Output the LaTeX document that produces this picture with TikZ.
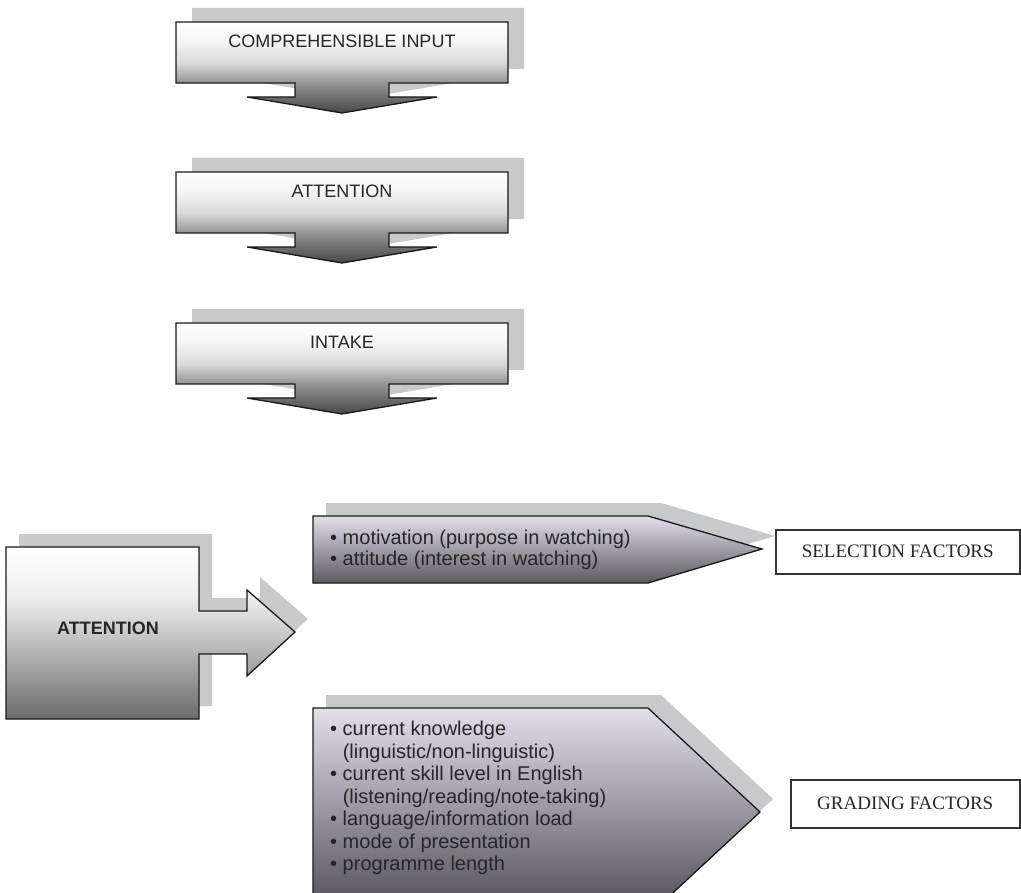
\documentclass[tikz,border=0pt]{standalone}
\usepackage{fontspec}
\setmainfont{Liberation Serif}
\setsansfont{Liberation Sans}
\usepackage{xcolor}
\usetikzlibrary{positioning}

\definecolor{shadowgray}{RGB}{200,201,203}
\definecolor{lavtop}{RGB}{228,222,236}
\definecolor{lavbot}{RGB}{78,75,84}

% shadings: 25bp = bottom of path, 75bp = top of path
\pgfdeclareverticalshading{stepshade}{100bp}{color(0bp)=(black!72); color(25bp)=(black!72);
  color(34bp)=(black!56); color(41.5bp)=(black!42); color(52.5bp)=(black!15);
  color(64.5bp)=(black!4); color(75bp)=(white); color(100bp)=(white)}
\pgfdeclareverticalshading{attshade}{100bp}{color(0bp)=(black!58); color(25bp)=(black!58);
  color(37.5bp)=(black!40); color(50bp)=(black!21); color(60bp)=(black!7);
  color(75bp)=(white); color(100bp)=(white)}

\newcommand\blt{•}

\tikzset{
  outline/.style={draw=black!90, line width=1.3},
  steplabel/.style={font=\sffamily\fontsize{18}{20}\selectfont, text=black!85},
  listlabel/.style={font=\sffamily\fontsize{20}{22.5}\selectfont, text=black!85, align=left, inner sep=0pt, anchor=west},
  factbox/.style={draw=black!80, line width=1.5, fill=white, anchor=north west,
    font=\rmfamily\fontsize{19}{21}\selectfont, text=black!85}
}

\begin{document}
\begin{tikzpicture}[x=1pt, y=-1pt]
      \useasboundingbox (0,0) rectangle (1021,893);
      \clip (0,0) rectangle (1021,893);

      % Top chain of boxes with down arrows
      \foreach \t/\lab [count=\i] in {22/COMPREHENSIBLE INPUT, 172/ATTENTION, 323/INTAKE} {
        \fill[shadowgray, shift={(16,-14)}] (176,\t) -- (508,\t) -- (508,\t+61) -- (389,\t+61)
          -- (389,\t+75) -- (437,\t+75) -- (342,\t+91) -- (247,\t+75) -- (295,\t+75)
          -- (295,\t+61) -- (176,\t+61) -- cycle;
        \path[outline, shading=stepshade]
          (176,\t) -- (508,\t) -- (508,\t+61) -- (389,\t+61)
          -- (389,\t+75) -- (437,\t+75) -- (342,\t+91) -- (247,\t+75) -- (295,\t+75)
          -- (295,\t+61) -- (176,\t+61) -- cycle;
        \node[steplabel] (step\i) at (342,\t+19) {\lab};
      }

      % Big attention arrow
      \fill[shadowgray, shift={(13,-13)}] (6,547) -- (199,547) -- (199,611) -- (247,611) -- (247,590)
        -- (295,632) -- (247,676) -- (247,654) -- (199,654) -- (199,719) -- (6,719) -- cycle;
      \path[outline, shading=attshade] (6,547) -- (199,547) -- (199,611)
        -- (247,611) -- (247,590) -- (295,632) -- (247,676) -- (247,654) -- (199,654)
        -- (199,719) -- (6,719) -- cycle;
      \node[font=\sffamily\bfseries\fontsize{18}{20}\selectfont, text=black!85] (attn) at (108,628) {ATTENTION};

      % Selection pentagon
      \fill[shadowgray, shift={(13,-13)}] (313,516) -- (648,516) -- (762,549) -- (648,583) -- (313,583) -- cycle;
      \path[outline, top color=lavtop, bottom color=lavbot!92] (313,516) -- (648,516) -- (762,549)
        -- (648,583) -- (313,583) -- cycle;
      \node[listlabel] (sellist) at (330,550) {\blt\ motivation (purpose in watching)\\[-1.5pt]
        \blt\ attitude (interest in watching)};

      % Grading pentagon
      \fill[shadowgray, shift={(13,-13)}] (313,708) -- (648,708) -- (760,812) -- (648,916) -- (313,916) -- cycle;
      \path[outline, top color=lavtop, bottom color=lavbot] (313,708) -- (648,708) -- (760,812)
        -- (648,916) -- (313,916) -- cycle;
      \node[listlabel] (gradlist) at (330,798) {\blt\ current knowledge\\
        \hphantom{\blt\ }(linguistic/non-linguistic)\\
        \blt\ current skill level in English\\
        \hphantom{\blt\ }(listening/reading/note-taking)\\
        \blt\ language/information load\\
        \blt\ mode of presentation\\
        \blt\ programme length};

      % Factor boxes
      \node[factbox, minimum width=244pt, minimum height=44pt] (selfac) at (775,529) {SELECTION FACTORS};
      \node[factbox, minimum width=229pt, minimum height=48pt] (gradfac) at (790,779) {GRADING FACTORS};
    \end{tikzpicture}
\end{document}
